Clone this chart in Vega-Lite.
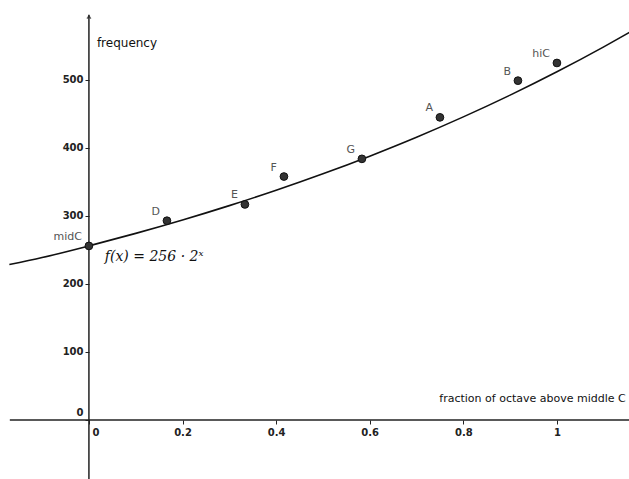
{
  "$schema": "https://vega.github.io/schema/vega-lite/v6.json",
  "width": 629,
  "height": 479,
  "padding": 0,
  "autosize": "none",
  "background": "white",
  "config": {"view": {"stroke": null}, "font": "DejaVu Sans"},
  "datasets": {
    "notes": [
      {"note": "midC", "fraction": 0.0, "frequency": 256},
      {"note": "D", "fraction": 0.1667, "frequency": 293},
      {"note": "E", "fraction": 0.3333, "frequency": 317},
      {"note": "F", "fraction": 0.4167, "frequency": 358},
      {"note": "G", "fraction": 0.5833, "frequency": 384},
      {"note": "A", "fraction": 0.75, "frequency": 445},
      {"note": "B", "fraction": 0.9167, "frequency": 499},
      {"note": "hiC", "fraction": 1.0, "frequency": 525}
    ],
    "curve": [
      {"fraction": -0.17, "frequency": 228.6},
      {"fraction": -0.1, "frequency": 238.9},
      {"fraction": 0.0, "frequency": 256.0},
      {"fraction": 0.1, "frequency": 274.4},
      {"fraction": 0.2, "frequency": 294.1},
      {"fraction": 0.3, "frequency": 315.2},
      {"fraction": 0.4, "frequency": 337.8},
      {"fraction": 0.5, "frequency": 362.0},
      {"fraction": 0.6, "frequency": 388.0},
      {"fraction": 0.7, "frequency": 415.8},
      {"fraction": 0.8, "frequency": 445.7},
      {"fraction": 0.9, "frequency": 477.7},
      {"fraction": 1.0, "frequency": 512.0},
      {"fraction": 1.1, "frequency": 548.7},
      {"fraction": 1.16, "frequency": 571.9}
    ],
    "xaxisline": [
      {"fraction": -0.169, "frequency": 0},
      {"fraction": 1.16, "frequency": 0}
    ],
    "yaxisline": [
      {"fraction": 0, "frequency": -90},
      {"fraction": 0, "frequency": 596}
    ],
    "arrow": [
      {"fraction": 0, "frequency": 593}
    ]
  },
  "layer": [
    {
      "data": {"name": "xaxisline"},
      "mark": {"type": "line", "color": "#222", "strokeWidth": 1.5},
      "encoding": {
        "x": {"field": "fraction", "type": "quantitative",
          "scale": {"domain": [-0.19, 1.154], "nice": false, "zero": false},
          "axis": {
            "orient": "bottom", "offset": -59, "domain": false, "grid": false,
            "values": [0, 0.2, 0.4, 0.6, 0.8, 1], "format": "~g",
            "tickSize": 4, "tickColor": "#222", "labelPadding": 3,
            "labelFont": "DejaVu Sans", "labelFontSize": 10, "labelFontWeight": "bold", "labelColor": "#222",
            "labelAlign": {"condition": {"test": "datum.value == 0", "value": "left"}, "value": "center"},
            "labelOffset": {"condition": {"test": "datum.value == 0", "value": 3}, "value": 0},
            "title": null
          }},
        "y": {"field": "frequency", "type": "quantitative",
          "scale": {"domain": [-86.8, 617.6], "nice": false, "zero": false},
          "axis": {
            "orient": "left", "offset": -89, "domain": false, "grid": false,
            "values": [0, 100, 200, 300, 400, 500],
            "tickSize": 4, "tickColor": "#222", "labelPadding": 2,
            "labelFont": "DejaVu Sans", "labelFontSize": 10, "labelFontWeight": "bold", "labelColor": "#222",
            "labelBaseline": {"condition": {"test": "datum.value == 0", "value": "bottom"}, "value": "middle"},
            "labelOffset": {"condition": {"test": "datum.value == 0", "value": -2}, "value": 0},
            "title": null
          }}
      }
    },
    {
      "data": {"name": "yaxisline"},
      "mark": {"type": "line", "color": "#222", "strokeWidth": 1.5},
      "encoding": {
        "x": {"field": "fraction", "type": "quantitative"},
        "y": {"field": "frequency", "type": "quantitative"}
      }
    },
    {
      "data": {"name": "arrow"},
      "mark": {"type": "point", "shape": "M-0.6,0.6L0,-0.2L0.6,0.6", "filled": false, "color": "#222", "strokeWidth": 1.5, "size": 40},
      "encoding": {
        "x": {"field": "fraction", "type": "quantitative"},
        "y": {"field": "frequency", "type": "quantitative"}
      }
    },
    {
      "data": {"name": "curve"},
      "mark": {"type": "line", "color": "#111", "strokeWidth": 1.6, "interpolate": "monotone"},
      "encoding": {
        "x": {"field": "fraction", "type": "quantitative"},
        "y": {"field": "frequency", "type": "quantitative"}
      }
    },
    {
      "data": {"name": "notes"},
      "mark": {"type": "circle", "size": 60, "color": "#333", "stroke": "#111", "strokeWidth": 1, "opacity": 1},
      "encoding": {
        "x": {"field": "fraction", "type": "quantitative"},
        "y": {"field": "frequency", "type": "quantitative"}
      }
    },
    {
      "data": {"name": "notes"},
      "mark": {"type": "text", "align": "right", "baseline": "middle", "dx": -7, "dy": -9, "font": "DejaVu Sans", "fontSize": 11, "color": "#555"},
      "encoding": {
        "x": {"field": "fraction", "type": "quantitative"},
        "y": {"field": "frequency", "type": "quantitative"},
        "text": {"field": "note"}
      }
    },
    {
      "data": {"values": [
        {"label": "frequency", "fraction": 0.017, "frequency": 554}
      ]},
      "mark": {"type": "text", "align": "left", "baseline": "middle", "font": "DejaVu Sans", "fontSize": 12, "color": "#111"},
      "encoding": {
        "x": {"field": "fraction", "type": "quantitative"},
        "y": {"field": "frequency", "type": "quantitative"},
        "text": {"field": "label"}
      }
    },
    {
      "data": {"values": [
        {"label": "f(x) = 256 · 2ˣ", "fraction": 0.034, "frequency": 240}
      ]},
      "mark": {"type": "text", "align": "left", "baseline": "middle", "font": "DejaVu Serif", "fontStyle": "italic", "fontSize": 14, "color": "#111"},
      "encoding": {
        "x": {"field": "fraction", "type": "quantitative"},
        "y": {"field": "frequency", "type": "quantitative"},
        "text": {"field": "label"}
      }
    },
    {
      "data": {"values": [
        {"label": "fraction of octave above middle C", "fraction": 1.147, "frequency": 31}
      ]},
      "mark": {"type": "text", "align": "right", "baseline": "middle", "font": "DejaVu Sans", "fontSize": 11, "color": "#111"},
      "encoding": {
        "x": {"field": "fraction", "type": "quantitative"},
        "y": {"field": "frequency", "type": "quantitative"},
        "text": {"field": "label"}
      }
    }
  ]
}
